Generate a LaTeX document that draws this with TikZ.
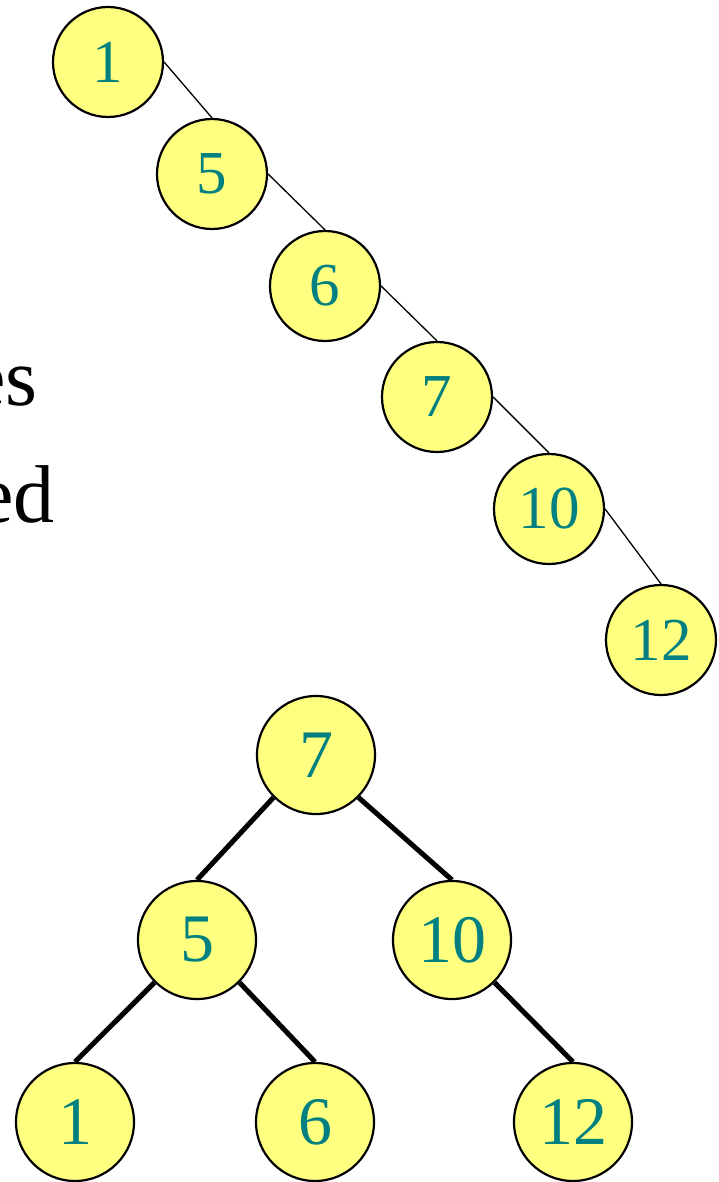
\documentclass[tikz,border=0pt]{standalone}
\usepackage{fontspec}
\setmainfont{Liberation Serif}
\definecolor{nodefill}{RGB}{255,255,128}
\definecolor{numcol}{RGB}{0,128,128}
\tikzset{
  keynode/.style={circle, draw=black, line width=2.2pt, fill=nodefill,
    text=numcol, inner sep=0pt},
  small/.style={keynode, minimum size=110pt, font=\fontsize{61}{61}\selectfont},
  big/.style={keynode, minimum size=118pt, font=\fontsize{68}{68}\selectfont},
  thinedge/.style={line width=1.3pt},
  thickedge/.style={line width=5pt},
  words/.style={font=\fontsize{82}{82}\selectfont, inner sep=0pt, anchor=base east}
}
\begin{document}
\begin{tikzpicture}[x=1pt,y=-1pt]
  \useasboundingbox (0,0) rectangle (719,1182);
  \clip (0,0) rectangle (719,1182);

  % text fragments at the left edge
  \node[words] (w1) at (38,405) {es};
  \node[words] (w2) at (55,522) {ed};

  % degenerate chain
  \node[small] (a1) at (108,62) {1};
  \node[small] (a5) at (212,174) {5};
  \node[small] (a6) at (325,286) {6};
  \node[small] (a7) at (437,397) {7};
  \node[small] (a10) at (549,509) {10};
  \node[small] (a12) at (661,640) {12};
  \draw[thinedge] (a1.east) -- (a5.north);
  \draw[thinedge] (a5.east) -- (a6.north);
  \draw[thinedge] (a6.east) -- (a7.north);
  \draw[thinedge] (a7.east) -- (a10.north);
  \draw[thinedge] (a10.east) -- (a12.north);

  % balanced tree
  \node[big] (b7) at (316,755) {7};
  \node[big] (b5) at (197,940) {5};
  \node[big] (b10) at (452,940) {10};
  \node[big] (b1) at (75,1122) {1};
  \node[big] (b6) at (315,1122) {6};
  \node[big] (b12) at (573,1122) {12};
  \draw[thickedge] (b7.south west) -- (b5.north);
  \draw[thickedge] (b7.south east) -- (b10.north);
  \draw[thickedge] (b5.south west) -- (b1.north);
  \draw[thickedge] (b5.south east) -- (b6.north);
  \draw[thickedge] (b10.south east) -- (b12.north);
\end{tikzpicture}
\end{document}
